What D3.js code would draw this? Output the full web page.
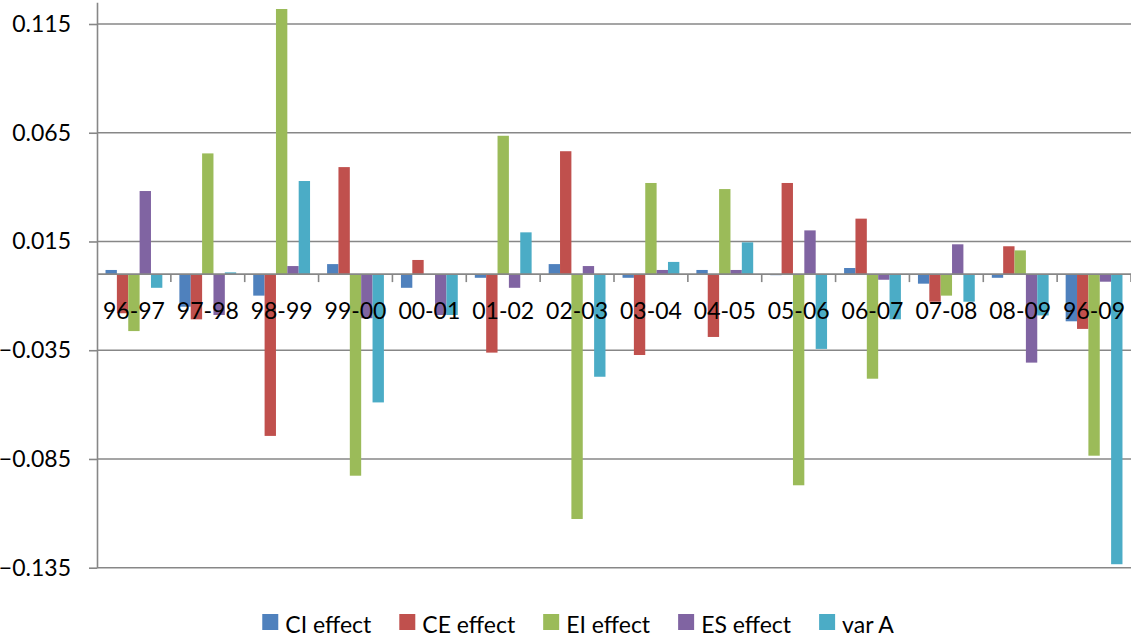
<!DOCTYPE html>
<html>
<head>
<meta charset="utf-8">
<script src="https://cdn.jsdelivr.net/npm/d3@7/dist/d3.min.js"></script>
<style>
  html, body { margin: 0; padding: 0; background: #fff; }
  svg { display: block; font-family: Lato, "Open Sans", sans-serif; }
</style>
</head>
<body>
<svg id="chart" width="1131" height="640"></svg>
<script>
// Periods on the category axis
const periods = ["96-97", "97-98", "98-99", "99-00", "00-01", "01-02", "02-03",
                 "03-04", "04-05", "05-06", "06-07", "07-08", "08-09", "96-09"];

// Series names and colours
const seriesNames = ["CI effect", "CE effect", "EI effect", "ES effect", "var A"];
const seriesColors = ["#4F81BD", "#C0504D", "#9BBB59", "#8064A2", "#4BACC6"];

// Effect values per period
const ciEffect = [0.0019, -0.0150, -0.0099, 0.0046, -0.0063, -0.0017, 0.0046,
                  -0.0017, 0.0019, -0.0005, 0.0028, -0.0044, -0.0017, -0.0217];
const ceEffect = [-0.0180, -0.0208, -0.0744, 0.0492, 0.0065, -0.0361, 0.0565,
                  -0.0372, -0.0289, 0.0419, 0.0255, -0.0127, 0.0128, -0.0252];
const eiEffect = [-0.0262, 0.0555, 0.1219, -0.0927, -0.0004, 0.0636, -0.1126,
                  0.0419, 0.0391, -0.0971, -0.0481, -0.0099, 0.0109, -0.0835];
const esEffect = [0.0382, -0.0188, 0.0037, -0.0203, -0.0188, -0.0063, 0.0037,
                  0.0019, 0.0019, 0.0201, -0.0026, 0.0137, -0.0407, -0.0035];
const varA     = [-0.0063, 0.0008, 0.0428, -0.0590, -0.0188, 0.0192, -0.0472,
                  0.0056, 0.0146, -0.0344, -0.0208, -0.0127, -0.0190, -0.1334];

// Value axis
const yTicks = [-0.135, -0.085, -0.035, 0.015, 0.065, 0.115];
const yMin = -0.135, yMax = 0.125;

const seriesValues = [ciEffect, ceEffect, eiEffect, esEffect, varA];

const svg = d3.select("#chart");
const plot = { left: 97, right: 1131, top: 2.25, bottom: 567.7 };
const gridColor = "#878787";
const fontSize = 23;

const x = d3.scaleBand().domain(periods).range([plot.left, plot.right]).padding(0);
const xs = d3.scaleBand().domain(seriesNames).range([0, x.bandwidth()])
  .paddingInner(0).paddingOuter(0.75);
const y = d3.scaleLinear().domain([yMin, yMax]).range([plot.bottom, plot.top]);

// Horizontal gridlines
svg.append("g").selectAll("line").data(yTicks).join("line")
  .attr("x1", plot.left).attr("x2", plot.right)
  .attr("y1", d => y(d)).attr("y2", d => y(d))
  .attr("stroke", gridColor).attr("stroke-width", 1.6);

// Bars
const rows = periods.map((p, i) => ({
  period: p,
  values: seriesNames.map((s, k) => ({ series: s, k, value: seriesValues[k][i] }))
}));

const groups = svg.append("g").selectAll("g").data(rows).join("g")
  .attr("transform", d => `translate(${x(d.period)},0)`);

groups.selectAll("rect").data(d => d.values).join("rect")
  .attr("x", d => xs(d.series))
  .attr("width", xs.bandwidth())
  .attr("y", d => y(Math.max(0, d.value)))
  .attr("height", d => Math.abs(y(d.value) - y(0)))
  .attr("fill", d => seriesColors[d.k]);

// Value axis
const yAxis = svg.append("g").attr("transform", `translate(${plot.left},0)`)
  .call(d3.axisLeft(y).tickValues(yTicks).tickFormat(d3.format(".3f"))
    .tickSizeInner(8).tickSizeOuter(0).tickPadding(18));
yAxis.select(".domain").attr("stroke", gridColor).attr("stroke-width", 1.6);
yAxis.selectAll(".tick line").attr("stroke", gridColor).attr("stroke-width", 1.6);
yAxis.selectAll(".tick text")
  .attr("fill", "#000")
  .style("font-size", fontSize + "px")
  .style("font-family", "Lato, 'Open Sans', sans-serif");

// Category axis along zero
const xAxisG = svg.append("g");
xAxisG.append("line")
  .attr("x1", plot.left).attr("x2", plot.right)
  .attr("y1", y(0)).attr("y2", y(0))
  .attr("stroke", gridColor).attr("stroke-width", 1.6);
xAxisG.selectAll("line.tick").data(periods).join("line")
  .attr("class", "tick")
  .attr("x1", d => x(d) + x.bandwidth()).attr("x2", d => x(d) + x.bandwidth())
  .attr("y1", y(0)).attr("y2", y(0) + 8)
  .attr("stroke", gridColor).attr("stroke-width", 1.6);
xAxisG.selectAll("text").data(periods).join("text")
  .attr("x", d => x(d) + x.bandwidth() / 2)
  .attr("y", y(0) + 45)
  .attr("text-anchor", "middle")
  .attr("fill", "#000")
  .style("font-size", fontSize + "px")
  .text(d => d);

// Legend
const legend = svg.append("g");
const items = legend.selectAll("g").data(seriesNames).join("g");
items.append("rect")
  .attr("width", 16).attr("height", 16).attr("y", 614)
  .attr("fill", (d, i) => seriesColors[i]);
items.append("text")
  .attr("x", 23).attr("y", 633)
  .attr("fill", "#000")
  .style("font-size", fontSize + "px")
  .text(d => d);

let cursor = 0;
const offsets = [];
items.each(function () {
  const w = d3.select(this).select("text").node().getComputedTextLength();
  offsets.push(cursor);
  cursor += 23 + w + 28;
});
const totalWidth = cursor - 28;
const legendStart = 578 - totalWidth / 2;
items.attr("transform", (d, i) => `translate(${legendStart + offsets[i]},0)`);
</script>
</body>
</html>
